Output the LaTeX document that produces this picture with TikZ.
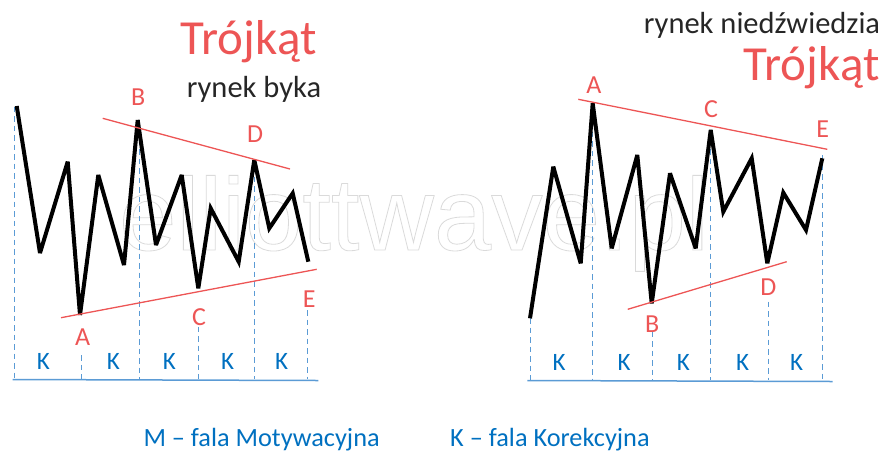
\documentclass[tikz,border=0pt]{standalone}
\usepackage{fontspec}
\setmainfont{Carlito}
\newfontfamily\wmfont{Liberation Sans}
\definecolor{tred}{RGB}{237,85,85}
\definecolor{kblue}{RGB}{0,112,192}
\definecolor{dblue}{RGB}{91,155,213}
\definecolor{wmgray}{RGB}{218,218,218}
\begin{document}
\begin{tikzpicture}[x=1pt,y=-1pt,
  wave/.style={line width=4pt,black,line join=miter,miter limit=4},
  trend/.style={tred,line width=1.3pt},
  guide/.style={dblue,dash pattern=on 5.5pt off 4pt,line width=1pt},
  axisline/.style={dblue,line width=1.5pt},
  klabel/.style={kblue,font=\fontsize{25}{25}\selectfont,anchor=base,inner sep=0pt},
  plabel/.style={tred,font=\fontsize{26}{26}\selectfont,anchor=base,inner sep=0pt},
  title/.style={tred,font=\fontsize{49}{49}\selectfont,anchor=base,inner sep=0pt},
  subtitle/.style={black!85,font=\fontsize{30.5}{30.5}\selectfont,anchor=base,inner sep=0pt},
  legend/.style={kblue,font=\fontsize{26.3}{26.3}\selectfont,anchor=base west,inner sep=0pt}]
\useasboundingbox (0,0) rectangle (886,451);

% watermark
\node[anchor=base,inner sep=0pt,text=wmgray,font=\wmfont\fontsize{103}{103}\selectfont] (wm) at (414,250)
  {\special{pdf:literal direct 1 Tr 0.8 w}elliottwave.pl\special{pdf:literal direct 0 Tr}};

% ---------- left chart (bull market) ----------
\coordinate (l1) at (16.7,106);
\coordinate (l2) at (40,253);
\coordinate (l3) at (67.7,161.7);
\coordinate (lA) at (80,315);
\coordinate (l5) at (98.3,175);
\coordinate (l6) at (124,265);
\coordinate (lB) at (137.7,120);
\coordinate (l8) at (156,245);
\coordinate (l9) at (181.7,175);
\coordinate (lC) at (198.3,288.3);
\coordinate (l11) at (210.7,208.3);
\coordinate (l12) at (238.7,261.7);
\coordinate (lD) at (254.3,160);
\coordinate (l14) at (269.3,228.3);
\coordinate (l15) at (292.7,193.3);
\coordinate (lE) at (308.3,261.7);

% guides
\coordinate (lg0t) at (14,106.7);   \coordinate (lg0b) at (14,379);
\coordinate (lg1t) at (81.7,355);   \coordinate (lg1b) at (81.7,379);
\coordinate (lg2t) at (139.3,130);  \coordinate (lg2b) at (139.3,379);
\coordinate (lg3t) at (198.3,326.7);\coordinate (lg3b) at (198.3,379);
\coordinate (lg4t) at (254.3,176.7);\coordinate (lg4b) at (254.3,379);
\coordinate (lg5t) at (307.3,310);  \coordinate (lg5b) at (307.3,379);
\foreach \i in {0,...,5} \draw[guide] (lg\i t) -- (lg\i b);
\coordinate (lax0) at (12.7,379.5); \coordinate (lax1) at (318.3,380.5);
\draw[axisline] (lax0) -- (lax1);

\draw[wave] (l1) -- (l2) -- (l3) -- (lA) -- (l5) -- (l6) -- (lB) -- (l8) -- (l9)
  -- (lC) -- (l11) -- (l12) -- (lD) -- (l14) -- (l15) -- (lE);

\coordinate (lu0) at (102.7,118.3); \coordinate (lu1) at (290,169);
\coordinate (ll0) at (61,317.7);    \coordinate (ll1) at (316.7,269.3);
\draw[trend] (lu0) -- (lu1);
\draw[trend] (ll0) -- (ll1);

\node[plabel] (tlB) at (138.3,105) {B};
\node[plabel] (tlD) at (255,142) {D};
\node[plabel] (tlA) at (82.7,345) {A};
\node[plabel] (tlC) at (199,325) {C};
\node[plabel] (tlE) at (309.3,307) {E};

\node[klabel] (lk1) at (43.3,369) {K};
\node[klabel] (lk2) at (113.3,369) {K};
\node[klabel] (lk3) at (169.3,369) {K};
\node[klabel] (lk4) at (227.7,369) {K};
\node[klabel] (lk5) at (281.7,369) {K};

\node[title] (ltitle) at (249,54) {Trójkąt};
\node[subtitle] (lsub) at (254,97) {rynek byka};

% ---------- right chart (bear market) ----------
\coordinate (r1) at (530,318.3);
\coordinate (r2) at (553.3,166.7);
\coordinate (r3) at (580.7,263.3);
\coordinate (rA) at (592.7,103.3);
\coordinate (r5) at (611.7,248.3);
\coordinate (r6) at (637.3,155);
\coordinate (rB) at (651.7,303.3);
\coordinate (r8) at (670,173.3);
\coordinate (r9) at (695.7,248.3);
\coordinate (rC) at (710.7,130);
\coordinate (r11) at (723.3,211.7);
\coordinate (r12) at (751.7,158.3);
\coordinate (rD) at (767.3,263.3);
\coordinate (r14) at (783.3,192.7);
\coordinate (r15) at (806,230);
\coordinate (rE) at (822.3,158.3);

\coordinate (rg0t) at (530.7,318);  \coordinate (rg0b) at (530.7,380);
\coordinate (rg1t) at (592.7,103);  \coordinate (rg1b) at (592.7,380);
\coordinate (rg2t) at (652.7,331.7);\coordinate (rg2b) at (652.7,380);
\coordinate (rg3t) at (710.7,130);  \coordinate (rg3b) at (710.7,380);
\coordinate (rg4t) at (768.7,301.7);\coordinate (rg4b) at (768.7,380);
\coordinate (rg5t) at (822.3,155);  \coordinate (rg5b) at (822.3,380);
\foreach \i in {0,...,5} \draw[guide] (rg\i t) -- (rg\i b);
\coordinate (rax0) at (527.3,380.5); \coordinate (rax1) at (832.7,381.5);
\draw[axisline] (rax0) -- (rax1);

\draw[wave] (r1) -- (r2) -- (r3) -- (rA) -- (r5) -- (r6) -- (rB) -- (r8) -- (r9)
  -- (rC) -- (r11) -- (r12) -- (rD) -- (r14) -- (r15) -- (rE);

\coordinate (ru0) at (578.3,99.3);  \coordinate (ru1) at (827.3,149.3);
\coordinate (rl0) at (627.7,309.3); \coordinate (rl1) at (786.7,261.7);
\draw[trend] (ru0) -- (ru1);
\draw[trend] (rl0) -- (rl1);

\node[plabel] (trA) at (594,93.5) {A};
\node[plabel] (trC) at (711,117) {C};
\node[plabel] (trE) at (822.7,137) {E};
\node[plabel] (trD) at (768.3,295) {D};
\node[plabel] (trB) at (652.3,332) {B};

\node[klabel] (rk1) at (559,370.5) {K};
\node[klabel] (rk2) at (624,370.5) {K};
\node[klabel] (rk3) at (683.3,370.5) {K};
\node[klabel] (rk4) at (742.7,370.5) {K};
\node[klabel] (rk5) at (796.7,370.5) {K};

\node[subtitle] (rsub) at (762,33.5) {rynek niedźwiedzia};
\node[title] (rtitle) at (812,80) {Trójkąt};

% ---------- legend ----------
\node[legend] (legM) at (143.3,446) {M – fala Motywacyjna};
\node[legend] (legK) at (450,446) {K – fala Korekcyjna};
\end{tikzpicture}
\end{document}
